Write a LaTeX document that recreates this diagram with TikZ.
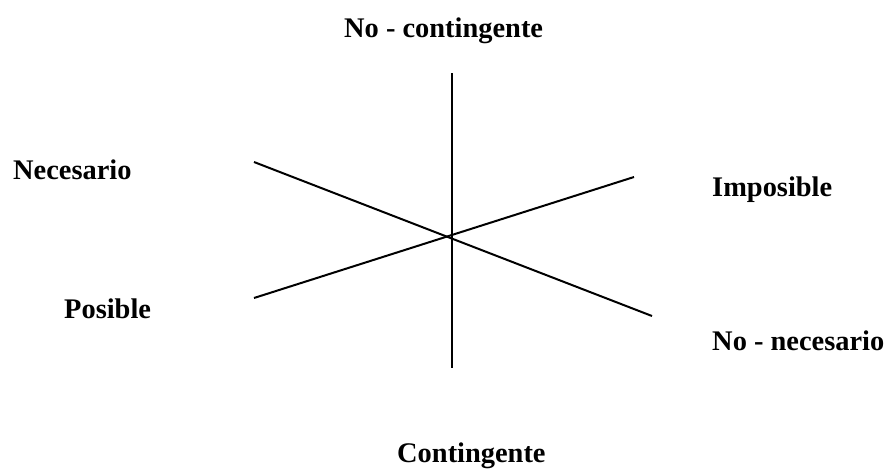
\documentclass[tikz,border=0pt]{standalone}
\usepackage{fontspec}
\setmainfont{Liberation Serif}
\usetikzlibrary{positioning}

\begin{document}
\begin{tikzpicture}[x=0.03cm,y=-0.03cm,
    eje/.style={line width=1.7pt,black},
    lab/.style={anchor=base west,inner sep=0pt,font=\fontsize{24.25}{29}\selectfont\bfseries}]
  \useasboundingbox (0,0) rectangle (887,470);
  % extremos de los ejes
  \coordinate (arriba) at (452,73);
  \coordinate (abajo) at (452,368);
  \coordinate (nec) at (254,162);
  \coordinate (nonec) at (652,316);
  \coordinate (pos) at (254,298);
  \coordinate (imp) at (634,177);
  \draw[eje] (arriba) -- (abajo);
  \draw[eje] (nec) -- (nonec);
  \draw[eje] (pos) -- (imp);
  % etiquetas
  \node[lab] (tnocont) at (344,37) {No - contingente};
  \node[lab] (tnec) at (13,179) {Necesario};
  \node[lab] (timp) at (712,196) {Imposible};
  \node[lab] (tpos) at (64,318) {Posible};
  \node[lab] (tnonec) at (712,350) {No - necesario};
  \node[lab] (tcont) at (397,462) {Contingente};
\end{tikzpicture}
\end{document}
